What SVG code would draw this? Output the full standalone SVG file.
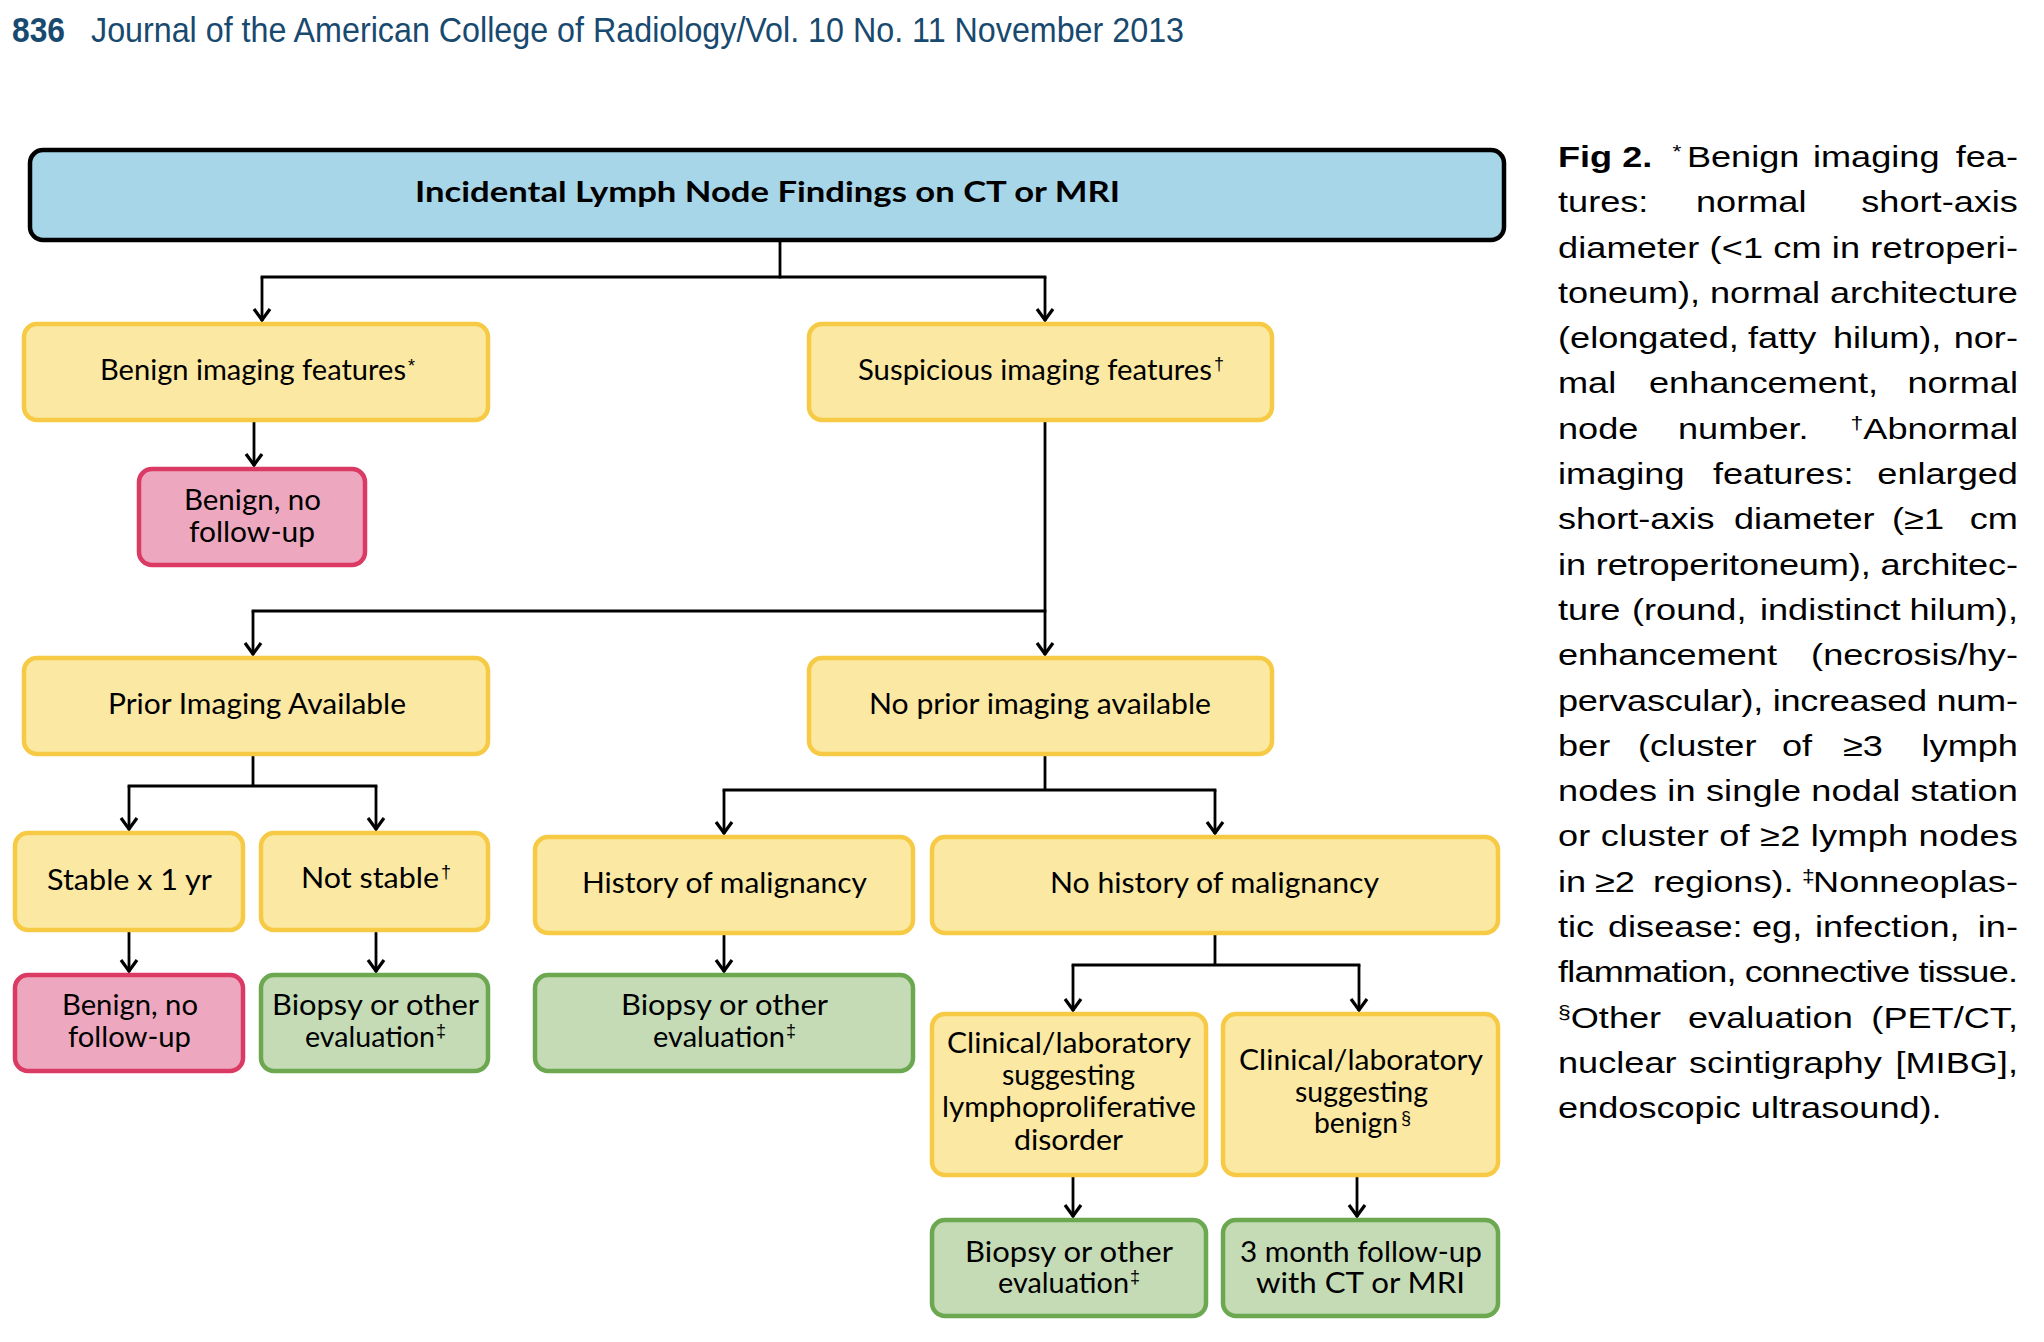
<svg xmlns="http://www.w3.org/2000/svg" width="2044" height="1342" viewBox="0 0 2044 1342">
<defs>
<style>
.by{fill:#fbe8a3;stroke:#f6ca45;stroke-width:4.5}
.bp{fill:#eda8bf;stroke:#da3a64;stroke-width:4.5}
.bg{fill:#c4dbb6;stroke:#6ca850;stroke-width:4.5}
.bb{fill:#a8d6e9;stroke:#000;stroke-width:4.5}
.t{font-family:Lato,"Open Sans","Liberation Sans",sans-serif;font-size:28px;fill:#000}
.tb{font-family:Lato,"Open Sans","Liberation Sans",sans-serif;font-size:28px;font-weight:bold;fill:#000}
.s{font-family:"Liberation Sans",Arial,sans-serif;font-size:18px;fill:#000}
.c{font-family:"Liberation Sans",Arial,sans-serif;font-size:30px;fill:#000}
.cs{font-family:"Liberation Sans",Arial,sans-serif;font-size:19px;fill:#000}
.h{font-family:"Liberation Sans",Arial,sans-serif;font-size:35px;fill:#18496f}
.conn path{fill:none;stroke:#000;stroke-width:2.8;stroke-linecap:square}
.conn path.a{stroke-linecap:butt;marker-end:url(#ah)}
</style>
<marker id="ah" markerUnits="userSpaceOnUse" viewBox="-16 -10 18 20" markerWidth="18" markerHeight="20" refX="0" refY="0" orient="auto">
<path d="M-12,-8 L-1,0 L-12,8" fill="none" stroke="#000" stroke-width="3.2" stroke-linejoin="miter"/>
</marker>
</defs>
<rect width="2044" height="1342" fill="#fff"/>

<g id="header">
<text class="h" x="12" y="42" font-weight="bold" textLength="53" lengthAdjust="spacingAndGlyphs">836</text>
<text class="h" x="91" y="42" textLength="1093" lengthAdjust="spacingAndGlyphs">Journal of the American College of Radiology/Vol. 10 No. 11 November 2013</text>
</g>

<g class="conn" id="connectors">
<path d="M780,242 V277"/>
<path d="M262,277 H1045"/>
<path class="a" d="M262,277 V321"/>
<path class="a" d="M1045,277 V321"/>
<path class="a" d="M254,422 V466"/>
<path class="a" d="M1045,422 V655"/>
<path d="M253,611 H1045"/>
<path class="a" d="M253,611 V655"/>
<path d="M253,756 V786 M129,786 H376"/>
<path class="a" d="M129,786 V830"/>
<path class="a" d="M376,786 V830"/>
<path class="a" d="M129,932 V972"/>
<path class="a" d="M376,932 V972"/>
<path d="M1045,756 V790 M724,790 H1215"/>
<path class="a" d="M724,790 V834"/>
<path class="a" d="M1215,790 V834"/>
<path class="a" d="M724,935 V972"/>
<path d="M1215,935 V965 M1073,965 H1359"/>
<path class="a" d="M1073,965 V1011"/>
<path class="a" d="M1359,965 V1011"/>
<path class="a" d="M1073,1177 V1217"/>
<path class="a" d="M1357,1177 V1217"/>
</g>

<g id="n-title">
<rect class="bb" x="30" y="150" width="1474" height="90" rx="13"/>
<text class="tb" x="415" y="202" textLength="705" lengthAdjust="spacingAndGlyphs">Incidental Lymph Node Findings on CT or MRI</text>
</g>
<g id="n-benign-features">
<rect class="by" x="24" y="324" width="464" height="96" rx="13"/>
<text class="t" x="100" y="380" textLength="306" lengthAdjust="spacingAndGlyphs">Benign imaging features</text>
<text class="s" x="408" y="372">*</text>
</g>
<g id="n-suspicious">
<rect class="by" x="809" y="324" width="463" height="96" rx="13"/>
<text class="t" x="858" y="380" textLength="354" lengthAdjust="spacingAndGlyphs">Suspicious imaging features</text>
<text class="s" x="1214" y="370">†</text>
</g>
<g id="n-benign-nofu-1">
<rect class="bp" x="139" y="469" width="226" height="96" rx="13"/>
<text class="t" x="184" y="510" textLength="137" lengthAdjust="spacingAndGlyphs">Benign, no</text>
<text class="t" x="189" y="542" textLength="126" lengthAdjust="spacingAndGlyphs">follow-up</text>
</g>
<g id="n-prior">
<rect class="by" x="24" y="658" width="464" height="96" rx="13"/>
<text class="t" x="108" y="714" textLength="298" lengthAdjust="spacingAndGlyphs">Prior Imaging Available</text>
</g>
<g id="n-noprior">
<rect class="by" x="809" y="658" width="463" height="96" rx="13"/>
<text class="t" x="869" y="714" textLength="342" lengthAdjust="spacingAndGlyphs">No prior imaging available</text>
</g>
<g id="n-stable">
<rect class="by" x="15" y="833" width="228" height="97" rx="13"/>
<text class="t" x="47" y="890" textLength="165" lengthAdjust="spacingAndGlyphs">Stable x 1 yr</text>
</g>
<g id="n-notstable">
<rect class="by" x="261" y="833" width="227" height="97" rx="13"/>
<text class="t" x="301" y="888" textLength="138" lengthAdjust="spacingAndGlyphs">Not stable</text>
<text class="s" x="441" y="878">†</text>
</g>
<g id="n-history">
<rect class="by" x="535" y="837" width="378" height="96" rx="13"/>
<text class="t" x="582" y="893" textLength="285" lengthAdjust="spacingAndGlyphs">History of malignancy</text>
</g>
<g id="n-nohistory">
<rect class="by" x="932" y="837" width="566" height="96" rx="13"/>
<text class="t" x="1050" y="893" textLength="329" lengthAdjust="spacingAndGlyphs">No history of malignancy</text>
</g>
<g id="n-benign-nofu-2">
<rect class="bp" x="15" y="975" width="228" height="96" rx="13"/>
<text class="t" x="62" y="1015" textLength="136" lengthAdjust="spacingAndGlyphs">Benign, no</text>
<text class="t" x="68" y="1047" textLength="123" lengthAdjust="spacingAndGlyphs">follow-up</text>
</g>
<g id="n-biopsy-1">
<rect class="bg" x="261" y="975" width="227" height="96" rx="13"/>
<text class="t" x="272" y="1015" textLength="207" lengthAdjust="spacingAndGlyphs">Biopsy or other</text>
<text class="t" x="305" y="1047" textLength="130" lengthAdjust="spacingAndGlyphs">evaluation</text>
<text class="s" x="436" y="1037">‡</text>
</g>
<g id="n-biopsy-2">
<rect class="bg" x="535" y="975" width="378" height="96" rx="13"/>
<text class="t" x="621" y="1015" textLength="207" lengthAdjust="spacingAndGlyphs">Biopsy or other</text>
<text class="t" x="653" y="1047" textLength="132" lengthAdjust="spacingAndGlyphs">evaluation</text>
<text class="s" x="786" y="1037">‡</text>
</g>
<g id="n-clin-lympho">
<rect class="by" x="932" y="1014" width="274" height="161" rx="13"/>
<text class="t" x="947" y="1053" textLength="244" lengthAdjust="spacingAndGlyphs">Clinical/laboratory</text>
<text class="t" x="1002" y="1085" textLength="133" lengthAdjust="spacingAndGlyphs">suggesting</text>
<text class="t" x="942" y="1117" textLength="254" lengthAdjust="spacingAndGlyphs">lymphoproliferative</text>
<text class="t" x="1014" y="1150" textLength="109" lengthAdjust="spacingAndGlyphs">disorder</text>
</g>
<g id="n-clin-benign">
<rect class="by" x="1223" y="1014" width="275" height="161" rx="13"/>
<text class="t" x="1239" y="1070" textLength="244" lengthAdjust="spacingAndGlyphs">Clinical/laboratory</text>
<text class="t" x="1295" y="1102" textLength="133" lengthAdjust="spacingAndGlyphs">suggesting</text>
<text class="t" x="1314" y="1133" textLength="84" lengthAdjust="spacingAndGlyphs">benign</text>
<text class="s" x="1401" y="1124">§</text>
</g>
<g id="n-biopsy-3">
<rect class="bg" x="932" y="1220" width="274" height="96" rx="13"/>
<text class="t" x="965" y="1262" textLength="208" lengthAdjust="spacingAndGlyphs">Biopsy or other</text>
<text class="t" x="998" y="1293" textLength="131" lengthAdjust="spacingAndGlyphs">evaluation</text>
<text class="s" x="1130" y="1283">‡</text>
</g>
<g id="n-followup">
<rect class="bg" x="1223" y="1220" width="275" height="96" rx="13"/>
<text class="t" x="1240" y="1262" textLength="242" lengthAdjust="spacingAndGlyphs">3 month follow-up</text>
<text class="t" x="1256" y="1293" textLength="209" lengthAdjust="spacingAndGlyphs">with CT or MRI</text>
</g>

<g id="caption" transform="translate(1558,0) scale(1.205,1)">
<text class="c" x="0" y="167" font-weight="bold">Fig 2.</text>
<text class="cs" x="95" y="158">*</text>
<text class="c" x="107" y="167">Benign</text>
<text class="c" x="211.6" y="167">imaging</text>
<text class="c" x="381.7" y="167" text-anchor="end">fea-</text>

<text class="c" x="0" y="212.3">tures:</text>
<text class="c" x="114.5" y="212.3">normal</text>
<text class="c" x="381.7" y="212.3" text-anchor="end">short-axis</text>

<text class="c" x="0" y="257.6" textLength="381.7" lengthAdjust="spacing">diameter (&lt;1 cm in retroperi-</text>
<text class="c" x="0" y="302.9" textLength="381.7" lengthAdjust="spacing">toneum), normal architecture</text>

<text class="c" x="0" y="348.2">(elongated,</text>
<text class="c" x="157.7" y="348.2">fatty</text>
<text class="c" x="228.2" y="348.2">hilum),</text>
<text class="c" x="381.7" y="348.2" text-anchor="end">nor-</text>

<text class="c" x="0" y="393.5">mal</text>
<text class="c" x="75.5" y="393.5">enhancement,</text>
<text class="c" x="381.7" y="393.5" text-anchor="end">normal</text>

<text class="c" x="0" y="438.8">node</text>
<text class="c" x="99.6" y="438.8">number.</text>
<text class="c" x="381.7" y="438.8" text-anchor="end"><tspan class="cs" dy="-10">†</tspan><tspan dy="10">Abnormal</tspan></text>

<text class="c" x="0" y="484.1">imaging</text>
<text class="c" x="128.6" y="484.1">features:</text>
<text class="c" x="381.7" y="484.1" text-anchor="end">enlarged</text>

<text class="c" x="0" y="529.4">short-axis</text>
<text class="c" x="146" y="529.4">diameter</text>
<text class="c" x="277.2" y="529.4">(≥1</text>
<text class="c" x="381.7" y="529.4" text-anchor="end">cm</text>

<text class="c" x="0" y="574.7" textLength="381.7" lengthAdjust="spacing">in retroperitoneum), architec-</text>

<text class="c" x="0" y="620">ture</text>
<text class="c" x="61.4" y="620">(round,</text>
<text class="c" x="167.6" y="620">indistinct</text>
<text class="c" x="381.7" y="620" text-anchor="end">hilum),</text>

<text class="c" x="0" y="665.3">enhancement</text>
<text class="c" x="381.7" y="665.3" text-anchor="end">(necrosis/hy-</text>

<text class="c" x="0" y="710.6" textLength="381.7" lengthAdjust="spacing">pervascular), increased num-</text>

<text class="c" x="0" y="755.9">ber</text>
<text class="c" x="66.4" y="755.9">(cluster</text>
<text class="c" x="185.9" y="755.9">of</text>
<text class="c" x="236.5" y="755.9">≥3</text>
<text class="c" x="381.7" y="755.9" text-anchor="end">lymph</text>

<text class="c" x="0" y="801.2" textLength="381.7" lengthAdjust="spacing">nodes in single nodal station</text>
<text class="c" x="0" y="846.5" textLength="381.7" lengthAdjust="spacing">or cluster of ≥2 lymph nodes</text>

<text class="c" x="0" y="891.8">in</text>
<text class="c" x="30.7" y="891.8">≥2</text>
<text class="c" x="78.8" y="891.8">regions).</text>
<text class="cs" x="202.5" y="881.8">‡</text>
<text class="c" x="381.7" y="891.8" text-anchor="end">Nonneoplas-</text>

<text class="c" x="0" y="937.1">tic</text>
<text class="c" x="41.5" y="937.1">disease:</text>
<text class="c" x="161" y="937.1">eg,</text>
<text class="c" x="213.3" y="937.1">infection,</text>
<text class="c" x="381.7" y="937.1" text-anchor="end">in-</text>

<text class="c" x="0" y="982.4" textLength="381.7" lengthAdjust="spacing">flammation, connective tissue.</text>

<text class="c" x="0" y="1027.7"><tspan class="cs" dy="-10">§</tspan><tspan dy="10">Other</tspan></text>
<text class="c" x="107.9" y="1027.7">evaluation</text>
<text class="c" x="381.7" y="1027.7" text-anchor="end">(PET/CT,</text>

<text class="c" x="0" y="1073">nuclear</text>
<text class="c" x="108.7" y="1073">scintigraphy</text>
<text class="c" x="381.7" y="1073" text-anchor="end">[MIBG],</text>

<text class="c" x="0" y="1118.3">endoscopic ultrasound).</text>
</g>
</svg>
